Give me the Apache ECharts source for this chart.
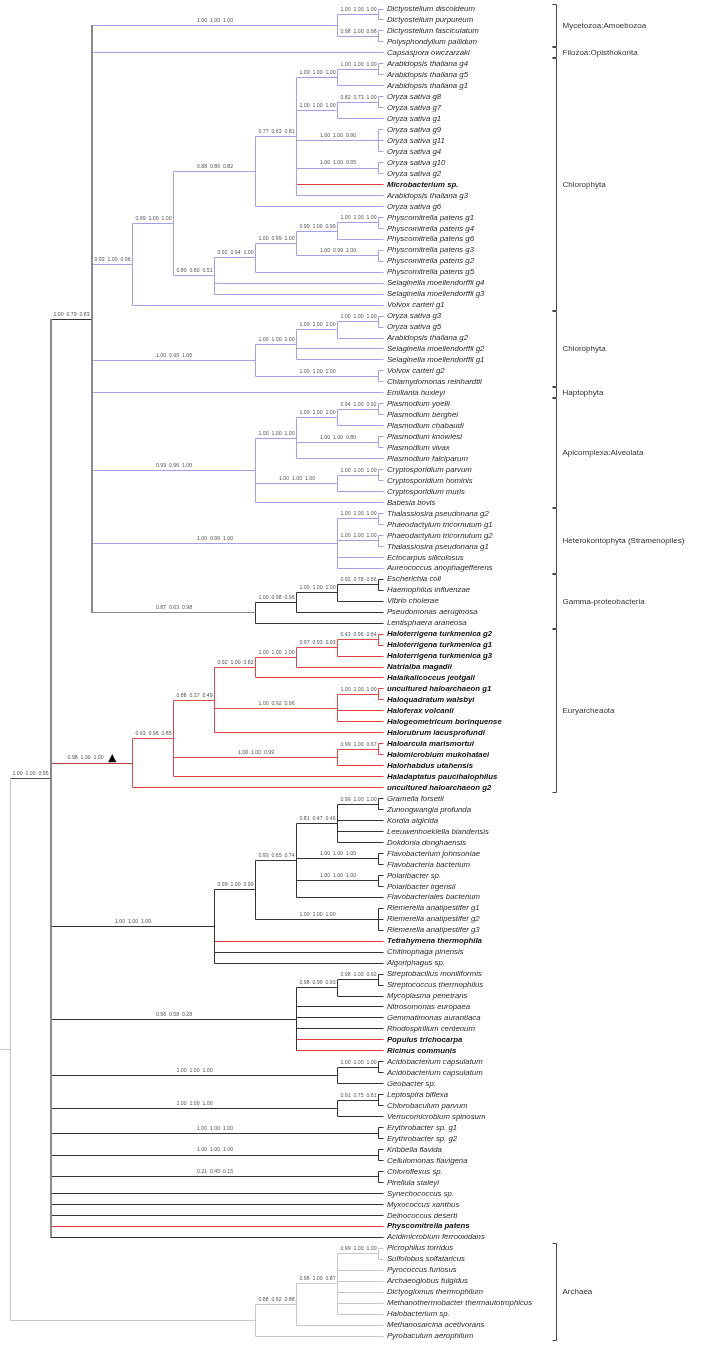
<!DOCTYPE html>
<html><head><meta charset="utf-8">
<script src="https://cdn.jsdelivr.net/npm/echarts@6/dist/echarts.min.js"></script>
<style>html,body{margin:0;padding:0;background:#fff}#c{width:716px;height:1346px}</style>
</head><body><div id="c"></div>
<script>
// ---------- DATA ----------
const leafNames = [
 'Dictyostelium discoideum','Dictyostelium purpureum','Dictyostelium fasciculatum','Polysphondylium pallidum',
 'Capsaspora owczarzaki',
 'Arabidopsis thaliana g4','Arabidopsis thaliana g5','Arabidopsis thaliana g1',
 'Oryza sativa g8','Oryza sativa g7','Oryza sativa g1','Oryza sativa g9','Oryza sativa g11','Oryza sativa g4',
 'Oryza sativa g10','Oryza sativa g2','Microbacterium sp.','Arabidopsis thaliana g3','Oryza sativa g6',
 'Physcomitrella patens g1','Physcomitrella patens g4','Physcomitrella patens g6','Physcomitrella patens g3',
 'Physcomitrella patens g2','Physcomitrella patens g5','Selaginella moellendorffii g4','Selaginella moellendorffii g3',
 'Volvox carteri g1',
 'Oryza sativa g3','Oryza sativa g5','Arabidopsis thaliana g2','Selaginella moellendorffii g2','Selaginella moellendorffii g1',
 'Volvox carteri g2','Chlamydomonas reinhardtii',
 'Emiliania huxleyi',
 'Plasmodium yoelii','Plasmodium berghei','Plasmodium chabaudi','Plasmodium knowlesi','Plasmodium vivax','Plasmodium falciparum',
 'Cryptosporidium parvum','Cryptosporidium hominis','Cryptosporidium muris','Babesia bovis',
 'Thalassiosira pseudonana g2','Phaeodactylum tricornutum g1','Phaeodactylum tricornutum g2','Thalassiosira pseudonana g1',
 'Ectocarpus siliculosus','Aureococcus anophagefferens',
 'Escherichia coli','Haemophilus influenzae','Vibrio cholerae','Pseudomonas aeruginosa','Lentisphaera araneosa',
 'Haloterrigena turkmenica g2','Haloterrigena turkmenica g1','Haloterrigena turkmenica g3','Natrialba magadii',
 'Halalkalicoccus jeotgali','uncultured haloarchaeon g1','Haloquadratum walsbyi','Haloferax volcanii',
 'Halogeometricum borinquense','Halorubrum lacusprofundi','Haloarcula marismortui','Halomicrobium mukohataei',
 'Halorhabdus utahensis','Haladaptatus paucihalophilus','uncultured haloarchaeon g2',
 'Gramella forsetii','Zunongwangia profunda','Kordia algicida','Leeuwenhoekiella blandensis','Dokdonia donghaensis',
 'Flavobacterium johnsoniae','Flavobacteria bacterium','Polaribacter sp.','Polaribacter irgensii','Flavobacteriales bacterium',
 'Riemerella anatipestifer g1','Riemerella anatipestifer g2','Riemerella anatipestifer g3',
 'Tetrahymena thermophila','Chitinophaga pinensis','Algoriphagus sp.',
 'Streptobacillus moniliformis','Streptococcus thermophilus','Mycoplasma penetrans','Nitrosomonas europaea',
 'Gemmatimonas aurantiaca','Rhodospirillum centenum','Populus trichocarpa','Ricinus communis',
 'Acidobacterium capsulatum','Acidobacterium capsulatum','Geobacter sp.',
 'Leptospira biflexa','Chlorobaculum parvum','Verrucomicrobium spinosum',
 'Erythrobacter sp. g1','Erythrobacter sp. g2','Kribbella flavida','Cellulomonas flavigena',
 'Chloroflexus sp.','Pirellula staleyi','Synechococcus sp.','Myxococcus xanthus','Deinococcus deserti',
 'Physcomitrella patens','Acidimicrobium ferrooxidans',
 'Picrophilus torridus','Sulfolobus solfataricus','Pyrococcus furiosus','Archaeoglobus fulgidus',
 'Dictyoglomus thermophilum','Methanothermobacter thermautotrophicus','Halobacterium sp.',
 'Methanosarcina acetivorans','Pyrobaculum aerophilum'
];
const highlightedLeaves = [16,57,58,59,60,61,62,63,64,65,66,67,68,69,70,71,85,94,95,111];

// internal nodes: [name, depth level, support values, children (leaf index or node name)]
const clades = [
 ['dictA',9,'1.00  1.00  1.00',[0,1]],
 ['dictB',9,'0.98  1.00  0.98',[2,3]],
 ['myce',8,'1.00  1.00  1.00',['dictA','dictB']],
 ['ara45',9,'1.00  1.00  1.00',[5,6]],
 ['ara',8,'1.00  1.00  1.00',['ara45',7]],
 ['ory87',9,'0.82  0.73  1.00',[8,9]],
 ['ory871',8,'1.00  1.00  1.00',['ory87',10]],
 ['ory9',9,'1.00  1.00  0.90',[11,12,13]],
 ['ory10',9,'1.00  1.00  0.95',[14,15]],
 ['angio',7,'0.77  0.63  0.81',['ara','ory871','ory9','ory10',16,17]],
 ['angio2',6,'0.88  0.86  0.82',['angio',18]],
 ['phy14',9,'1.00  1.00  1.00',[19,20]],
 ['phy146',8,'0.99  1.00  0.99',['phy14',21]],
 ['phy32',9,'1.00  0.99  1.00',[22,23]],
 ['phyA',7,'1.00  0.99  1.00',['phy146','phy32']],
 ['phyB',6,'0.92  0.94  1.00',['phyA',24]],
 ['moss',5,'0.80  0.60  0.51',['phyB',25,26]],
 ['land',4,'0.99  1.00  1.00',['angio2','moss']],
 ['chloro1',3,'0.93  1.00  0.96',['land',27]],
 ['ory35',9,'1.00  1.00  1.00',[28,29]],
 ['c2a',8,'1.00  1.00  1.00',['ory35',30]],
 ['c2b',7,'1.00  1.00  1.00',['c2a',31,32]],
 ['volchl',9,'1.00  1.00  1.00',[33,34]],
 ['chloro2',6,'1.00  0.99  1.00',['c2b','volchl']],
 ['pyb',9,'0.94  1.00  0.92',[36,37]],
 ['pybc',8,'1.00  1.00  1.00',['pyb',38]],
 ['pkv',9,'1.00  1.00  0.80',[39,40]],
 ['plas',7,'1.00  1.00  1.00',['pybc','pkv',41]],
 ['cph',9,'1.00  1.00  1.00',[42,43]],
 ['cry',8,'1.00  1.00  1.00',['cph',44]],
 ['apic',6,'0.99  0.96  1.00',['plas','cry',45]],
 ['tp1',9,'1.00  1.00  1.00',[46,47]],
 ['tp2',9,'1.00  1.00  1.00',[48,49]],
 ['hetero',8,'1.00  0.99  1.00',['tp1','tp2',50,51]],
 ['ecoh',9,'0.92  0.78  0.66',[52,53]],
 ['ecv',8,'1.00  1.00  1.00',['ecoh',54]],
 ['ecvp',7,'1.00  0.98  0.96',['ecv',55]],
 ['gamma',6,'0.87  0.63  0.98',['ecvp',56]],
 ['euk',2,'1.00  0.79  0.83',['myce',4,'chloro1','chloro2',35,'apic','hetero','gamma']],
 ['ht12',9,'0.43  0.96  0.64',[57,58]],
 ['ht',8,'0.97  0.93  0.93',['ht12',59]],
 ['htn',7,'1.00  1.00  1.00',['ht',60]],
 ['htnh',6,'0.92  1.00  0.82',['htn',61]],
 ['uq',9,'1.00  1.00  1.00',[62,63]],
 ['hfx',8,'1.00  0.92  0.96',['uq',64,65]],
 ['h5',5,'0.88  0.37  0.49',['htnh','hfx',66]],
 ['hamm',9,'0.99  1.00  0.67',[67,68]],
 ['ham',8,'1.00  1.00  0.99',['hamm',69]],
 ['h4',4,'0.93  0.96  0.85',['h5','ham',70]],
 ['halo',3,'0.98  1.00  1.00',['h4',71]],
 ['gz',9,'0.99  1.00  1.00',[72,73]],
 ['flavA',8,'0.81  0.47  0.46',['gz',74,75,76]],
 ['fj',9,'1.00  1.00  1.00',[77,78]],
 ['pol',9,'1.00  1.00  1.00',[79,80]],
 ['flavB',7,'0.93  0.65  0.74',['flavA','fj','pol',81]],
 ['rie',9,'1.00  1.00  1.00',[82,83,84]],
 ['flavC',6,'0.99  1.00  0.99',['flavB','rie']],
 ['bact1',5,'1.00  1.00  1.00',['flavC',85,86,87]],
 ['ss',9,'0.98  1.00  0.92',[88,89]],
 ['ssm',8,'0.98  0.99  0.93',['ss',90]],
 ['bact2',7,'0.96  0.58  0.28',['ssm',91,92,93,94,95]],
 ['aa',9,'1.00  1.00  1.00',[96,97]],
 ['acid',8,'1.00  1.00  1.00',['aa',98]],
 ['lc',9,'0.91  0.75  0.81',[99,100]],
 ['lept',8,'1.00  1.00  1.00',['lc',101]],
 ['ery',9,'1.00  1.00  1.00',[102,103]],
 ['krib',9,'1.00  1.00  1.00',[104,105]],
 ['chl',9,'0.21  0.45  0.15',[106,107]],
 ['bact',1,'1.00  1.00  0.95',['euk','halo','bact1','bact2','acid','lept','ery','krib','chl',108,109,110,111,112]],
 ['ps',9,'0.99  1.00  1.00',[113,114]],
 ['arA',8,'0.96  1.00  0.87',['ps',115,116,117,118,119]],
 ['arB',7,'0.88  0.92  0.88',['arA',120]],
 ['arC',6,'',['arB',121]],
 ['root',0,'',['bact','arC']]
];
const markedClade = 'halo';

const groupNames = ['Mycetozoa:Amoebozoa','Filozoa:Opisthokonta','Chlorophyta','Chlorophyta','Haptophyta',
 'Apicomplexa:Alveolata','Heterokontophyta (Stramenopiles)','Gamma-proteobacteria','Euryarcheaota','Archaea'];
const groupFirstLeaf = [0,4,5,28,35,36,46,52,57,113];
const groupLastLeaf  = [3,4,27,34,35,45,51,56,71,121];

// ---------- STYLE ----------
const RED = '#e03a3a';
const toneOverride = {root:'#c4c4c4', bact:'#333333', euk:'#a2a2e6', gamma:'#333333', halo:'#e24a4a', arC:'#c8c8c8'};
const branchOverride = {bact:'#555555', euk:'#333333', gamma:'#8a8a8a', halo:'#b33c3c'};
const vertOverride = {bact:'#8a8a8a', euk:'#8a8a8a'};
const thickNodes = {bact:2, euk:2};
const LEAF_TIP = 9.12;
const ROOT_STUB = -0.24;
const BRACKET_X = 13.34;

// ---------- LAYOUT ----------
const cladeMap = {};
clades.forEach(c => { cladeMap[c[0]] = {name:c[0], level:c[1], support:c[2], children:c[3]}; });
const segs = [], segStyle = [], texts = [], textKind = [];
function addSeg(x1,y1,x2,y2,color,w){ segs.push([x1,y1,x2,y2]); segStyle.push({color, w}); }
function place(id, parentLevel, tone){
  if (typeof id === 'number'){
    const hl = highlightedLeaves.includes(id);
    addSeg(parentLevel, id, LEAF_TIP, id, hl ? RED : tone, 1);
    texts.push([LEAF_TIP, id, leafNames[id]]); textKind.push(hl ? 'bold' : 'leaf');
    return id;
  }
  const c = cladeMap[id];
  const t = toneOverride[id] || tone;
  const ys = c.children.map(ch => place(ch, c.level, t));
  const y = (ys[0] + ys[ys.length-1]) / 2;
  addSeg(c.level, ys[0], c.level, ys[ys.length-1], vertOverride[id] || t, thickNodes[id] || 1);
  addSeg(parentLevel, y, c.level, y, branchOverride[id] || t, 1);
  if (c.support){ texts.push([(parentLevel + c.level)/2, y, c.support]); textKind.push(id === markedClade ? 'marked' : 'support'); }
  return y;
}
place('root', ROOT_STUB, '#c4c4c4');

const brackets = groupNames.map((n,i) => [BRACKET_X, groupFirstLeaf[i]-0.45, BRACKET_X, groupLastLeaf[i]+0.45]);

// ---------- CHART ----------
const chart = echarts.init(document.getElementById('c'), null, {renderer:'canvas'});
function snap(v, w){ return w % 2 === 1 ? Math.round(v - 0.5) + 0.5 : Math.round(v); }
const FONT = '"Liberation Sans", Arial, sans-serif';
chart.setOption({
  animation:false,
  backgroundColor:'#ffffff',
  grid:{left:10, right:0, top:9, bottom:10, containLabel:false},
  xAxis:{type:'value', min:0, max:17.22, show:false},
  yAxis:{type:'value', min:0, max:121, inverse:true, show:false},
  series:[
   {
    type:'custom', coordinateSystem:'cartesian2d', clip:false, silent:true,
    data:segs, encode:{x:[0,2], y:[1,3]},
    renderItem(params, api){
      const s = segStyle[params.dataIndex];
      const p1 = api.coord([api.value(0), api.value(1)]);
      const p2 = api.coord([api.value(2), api.value(3)]);
      return {type:'line', shape:{x1:snap(p1[0],s.w), y1:snap(p1[1],s.w), x2:snap(p2[0],s.w), y2:snap(p2[1],s.w)},
              style:{stroke:s.color, lineWidth:s.w}};
    }
   },
   {
    type:'custom', coordinateSystem:'cartesian2d', clip:false, silent:true,
    data:brackets, encode:{x:[0,2], y:[1,3]},
    renderItem(params, api){
      const p1 = api.coord([api.value(0), api.value(1)]);
      const p2 = api.coord([api.value(2), api.value(3)]);
      const x = snap(p1[0],1), y1 = snap(p1[1],1), y2 = snap(p2[1],1);
      const st = {stroke:'#444', lineWidth:1};
      return {type:'group', children:[
        {type:'line', shape:{x1:x, y1:y1, x2:x, y2:y2}, style:st},
        {type:'line', shape:{x1:x-4, y1:y1, x2:x, y2:y1}, style:st},
        {type:'line', shape:{x1:x-4, y1:y2, x2:x, y2:y2}, style:st},
        {type:'text', x:x+6, y:(y1+y2)/2, style:{text:groupNames[params.dataIndex], fill:'#333',
          font:'8px '+FONT, textAlign:'left', textVerticalAlign:'middle', align:'left', verticalAlign:'middle'}}
      ]};
    }
   },
   {
    type:'custom', coordinateSystem:'cartesian2d', clip:false, silent:true,
    data:texts.map(t => [t[0], t[1]]), encode:{x:0, y:1},
    renderItem(params, api){
      const i = params.dataIndex, kind = textKind[i], txt = texts[i][2];
      const p = api.coord([api.value(0), api.value(1)]);
      if (kind === 'leaf' || kind === 'bold'){
        return {type:'text', x:p[0]+3, y:p[1], style:{text:txt, fill: kind==='bold' ? '#111' : '#2a2a2a',
          font:(kind==='bold' ? 'italic bold ' : 'italic ') + '7.8px ' + FONT,
          textAlign:'left', textVerticalAlign:'middle', align:'left', verticalAlign:'middle'}};
      }
      if (kind === 'marked'){
        return {type:'text', x:p[0], y:p[1]-5, style:{text:txt + '   {t|▲}', fill:'#555',
          font:'5.2px ' + FONT, textAlign:'center', textVerticalAlign:'middle', align:'center', verticalAlign:'middle',
          rich:{t:{fontSize:11, fill:'#000', fontFamily:'DejaVu Sans'}}}};
      }
      return {type:'text', x:p[0], y:p[1]-5, style:{text:txt, fill:'#555',
        font:'5.2px ' + FONT, textAlign:'center', textVerticalAlign:'middle', align:'center', verticalAlign:'middle'}};
    }
   }
  ]
});
</script></body></html>
